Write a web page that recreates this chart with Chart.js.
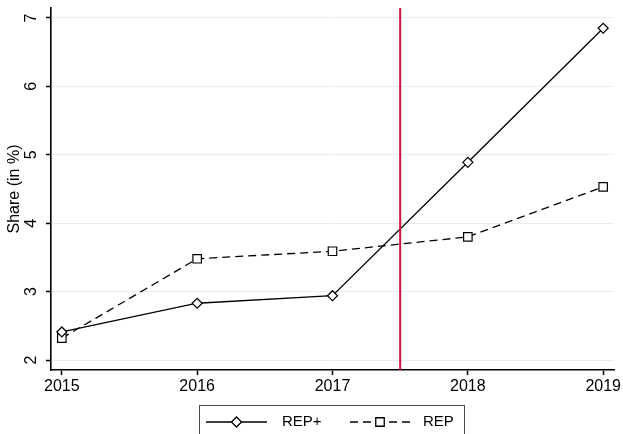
<!DOCTYPE html>
<html>
<head>
<meta charset="utf-8">
<script src="https://cdn.jsdelivr.net/npm/chart.js@4/dist/chart.umd.min.js"></script>
<style>
  html, body { margin: 0; padding: 0; background: #fff; overflow: hidden; }
  #wrap { width: 623px; height: 434px; }
</style>
</head>
<body>
<div id="wrap"><canvas id="c" width="623" height="434"></canvas></div>
<script>
// ---- data ----
const years = [2015, 2016, 2017, 2018, 2019];
const repPlus = [2.41, 2.83, 2.94, 4.89, 6.85];
const rep = [2.32, 3.48, 3.59, 3.80, 4.53];
const seriesLabels = ['REP+', 'REP'];
const xTicks = [2015, 2016, 2017, 2018, 2019];
const yTicks = [2, 3, 4, 5, 6, 7];
const cutoffYear = 2017.5;

const FONT = '"Liberation Sans", Arial, Helvetica, sans-serif';

const cutoffLine = {
  id: 'cutoffLine',
  afterDatasetsDraw(chart) {
    const { ctx, chartArea, scales } = chart;
    const x = scales.x.getPixelForValue(cutoffYear);
    ctx.save();
    ctx.strokeStyle = '#c8143e';
    ctx.lineWidth = 2;
    ctx.beginPath();
    ctx.moveTo(x, chartArea.top);
    ctx.lineTo(x, chartArea.bottom);
    ctx.stroke();
    ctx.restore();
  }
};

const boxLegend = {
  id: 'boxLegend',
  afterDraw(chart) {
    const { ctx } = chart;
    const ds = chart.data.datasets;
    const yc = 422;
    ctx.save();
    ctx.strokeStyle = '#4a4a4a';
    ctx.lineWidth = 1;
    ctx.strokeRect(199.5, 405.5, 265, 40);
    const items = [
      { x0: 206, x1: 267, tx: 282 },
      { x0: 350, x1: 410, tx: 423 }
    ];
    items.forEach((it, i) => {
      const d = ds[i];
      ctx.strokeStyle = '#000';
      ctx.lineWidth = 1.3;
      ctx.setLineDash(d.borderDash || []);
      ctx.beginPath();
      ctx.moveTo(it.x0, yc);
      ctx.lineTo(it.x1, yc);
      ctx.stroke();
      ctx.setLineDash([]);
      const cx = (it.x0 + it.x1) / 2;
      ctx.fillStyle = '#fff';
      ctx.beginPath();
      if (d.pointStyle === 'rectRot') {
        const r = d.pointRadius;
        ctx.moveTo(cx - r, yc); ctx.lineTo(cx, yc - r);
        ctx.lineTo(cx + r, yc); ctx.lineTo(cx, yc + r);
        ctx.closePath();
      } else {
        const s = Math.SQRT1_2 * d.pointRadius;
        ctx.rect(cx - s, yc - s, 2 * s, 2 * s);
      }
      ctx.fill();
      ctx.stroke();
      ctx.fillStyle = '#000';
      ctx.font = '15px ' + FONT;
      ctx.textAlign = 'left';
      ctx.textBaseline = 'middle';
      ctx.fillText(d.label, it.tx, yc);
    });
    ctx.restore();
  }
};

new Chart(document.getElementById('c'), {
  type: 'line',
  data: {
    datasets: [
      {
        label: seriesLabels[0],
        data: years.map((y, i) => ({ x: y, y: repPlus[i] })),
        borderColor: '#000',
        borderWidth: 1.3,
        pointStyle: 'rectRot',
        pointRadius: 5,
        pointBackgroundColor: '#fff',
        pointBorderColor: '#000',
        pointBorderWidth: 1.2,
        tension: 0,
        fill: false
      },
      {
        label: seriesLabels[1],
        data: years.map((y, i) => ({ x: y, y: rep[i] })),
        borderColor: '#000',
        borderWidth: 1.3,
        borderDash: [8, 5],
        pointStyle: 'rect',
        pointRadius: 6,
        pointBackgroundColor: '#fff',
        pointBorderColor: '#000',
        pointBorderWidth: 1.2,
        tension: 0,
        fill: false
      }
    ]
  },
  options: {
    responsive: false,
    animation: false,
    devicePixelRatio: 1,
    layout: { padding: { left: 0, top: 8, right: 9, bottom: 34 } },
    plugins: {
      legend: { display: false },
      tooltip: { enabled: false }
    },
    scales: {
      x: {
        type: 'linear',
        min: 2014.92,
        max: 2019.08,
        afterBuildTicks: s => { s.ticks = xTicks.map(v => ({ value: v })); },
        afterFit: s => { s.height = 30; s.paddingLeft = 0; s.paddingRight = 0; },
        ticks: {
          color: '#000',
          font: { family: FONT, size: 16 },
          padding: 2,
          maxRotation: 0,
          callback: v => String(v)
        },
        grid: {
          drawOnChartArea: false,
          tickLength: 5,
          tickColor: '#000',
          tickWidth: 1.5
        },
        border: { color: '#000', width: 1.6 }
      },
      y: {
        type: 'linear',
        min: 1.854,
        max: 7.146,
        afterBuildTicks: s => { s.ticks = yTicks.map(v => ({ value: v })); },
        afterFit: s => { s.width = 51; s.paddingTop = 0; s.paddingBottom = 0; },
        ticks: {
          color: '#000',
          font: { family: FONT, size: 16 },
          padding: 10,
          minRotation: 90,
          maxRotation: 90,
          crossAlign: 'center',
          callback: v => String(v)
        },
        grid: {
          color: '#e6eef0',
          lineWidth: 1,
          tickLength: 5,
          tickColor: '#000',
          tickWidth: 1.5
        },
        border: { color: '#000', width: 1.6 },
        title: {
          display: true,
          text: 'Share (in %)',
          color: '#000',
          font: { family: FONT, size: 16 },
          padding: { top: 5, bottom: 0 }
        }
      }
    }
  },
  plugins: [cutoffLine, boxLegend]
});
</script>
</body>
</html>
